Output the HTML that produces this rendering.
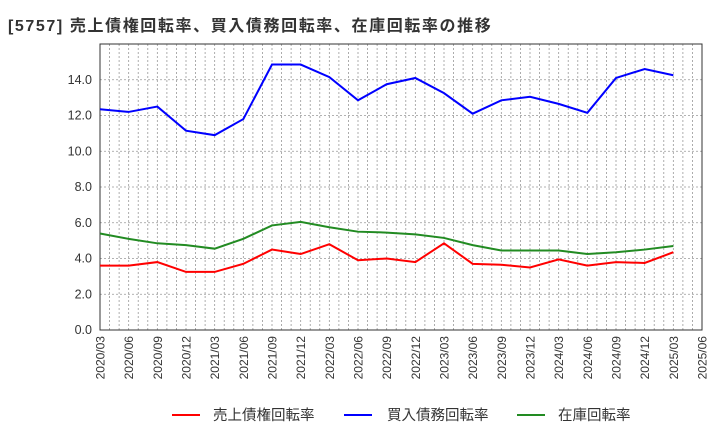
<!DOCTYPE html>
<html><head><meta charset="utf-8"><style>
body{margin:0;background:#fff;font-family:"Liberation Sans","Noto Sans CJK JP",sans-serif}
</style></head><body>
<svg id="c" width="720" height="440" xmlns="http://www.w3.org/2000/svg" style="font-family:'Liberation Sans','Noto Sans CJK JP',sans-serif">
<text x="8" y="31" font-size="16" font-weight="bold" letter-spacing="1.6" fill="#333">[5757]  売上債権回転率、買入債務回転率、在庫回転率の推移</text>
<g id="grid"></g><g id="axes"></g><g id="lines"></g>
<g>
<line x1="172" y1="415" x2="200" y2="415" stroke="#ff0000" stroke-width="2"/>
<text x="213" y="420" font-size="14.5" fill="#333">売上債権回転率</text>
<line x1="344" y1="415" x2="372" y2="415" stroke="#0000ff" stroke-width="2"/>
<text x="387" y="420" font-size="14.5" fill="#333">買入債務回転率</text>
<line x1="517" y1="415" x2="545" y2="415" stroke="#228b22" stroke-width="2"/>
<text x="558" y="420" font-size="14.5" fill="#333">在庫回転率</text>
</g>
</svg>
<script>
const categories=["2020/03","2020/06","2020/09","2020/12","2021/03","2021/06","2021/09","2021/12","2022/03","2022/06","2022/09","2022/12","2023/03","2023/06","2023/09","2023/12","2024/03","2024/06","2024/09","2024/12","2025/03","2025/06"];
const payables=[12.35,12.2,12.5,11.15,10.9,11.8,14.85,14.85,14.15,12.85,13.75,14.1,13.25,12.1,12.85,13.05,12.65,12.15,14.1,14.6,14.25];
const receivables=[3.6,3.6,3.8,3.25,3.25,3.7,4.5,4.25,4.8,3.9,4.0,3.8,4.85,3.7,3.65,3.5,3.95,3.6,3.8,3.75,4.35];
const inventory=[5.4,5.1,4.85,4.75,4.55,5.1,5.85,6.05,5.75,5.5,5.45,5.35,5.15,4.75,4.45,4.45,4.45,4.25,4.35,4.5,4.7];
const yTicks=[0,2,4,6,8,10,12,14];
const L=100,R=702,T=44,B=330,yMax=16;
const NS="http://www.w3.org/2000/svg";
const xs=i=>L+(R-L)*i/(categories.length-1);
const ys=v=>B-(B-T)*v/yMax;
function mk(t,a,p){const e=document.createElementNS(NS,t);for(const k in a)e.setAttribute(k,a[k]);p.appendChild(e);return e;}
const g=document.getElementById('grid'),ax=document.getElementById('axes'),ln=document.getElementById('lines');
const months=(categories.length-1)*3;
for(let m=1;m<months;m++){const x=L+(R-L)*m/months;const e=mk('line',{x1:x,x2:x,y1:T,y2:B,stroke:'#999','stroke-dasharray':'2,2','stroke-width':0.8},g);

}
yTicks.forEach(v=>{const y=ys(v);const e=mk('line',{x1:L,x2:R,y1:y,y2:y,stroke:'#999','stroke-dasharray':'2,2','stroke-width':0.8},g);


const t=mk('text',{x:L-8,y:y+4,'font-size':12.5,'text-anchor':'end',fill:'#333'},ax);t.textContent=v.toFixed(1);

});
categories.forEach((c,i)=>{const x=xs(i);const t=mk('text',{transform:`translate(${x+4.5},${B+6}) rotate(-90)`,'font-size':12,'text-anchor':'end',fill:'#333'},ax);t.textContent=c;

});
const fr=mk('rect',{x:L,y:T,width:R-L,height:B-T,fill:'none',stroke:'#333','stroke-width':1},ax);


[[receivables,'#ff0000','receivables-line'],[payables,'#0000ff','payables-line'],[inventory,'#228b22','inventory-line']].forEach(([d,c,n])=>{
const p=mk('polyline',{points:d.map((v,i)=>xs(i)+','+ys(v)).join(' '),fill:'none',stroke:c,'stroke-width':2},ln);

});
</script>
</body></html>
